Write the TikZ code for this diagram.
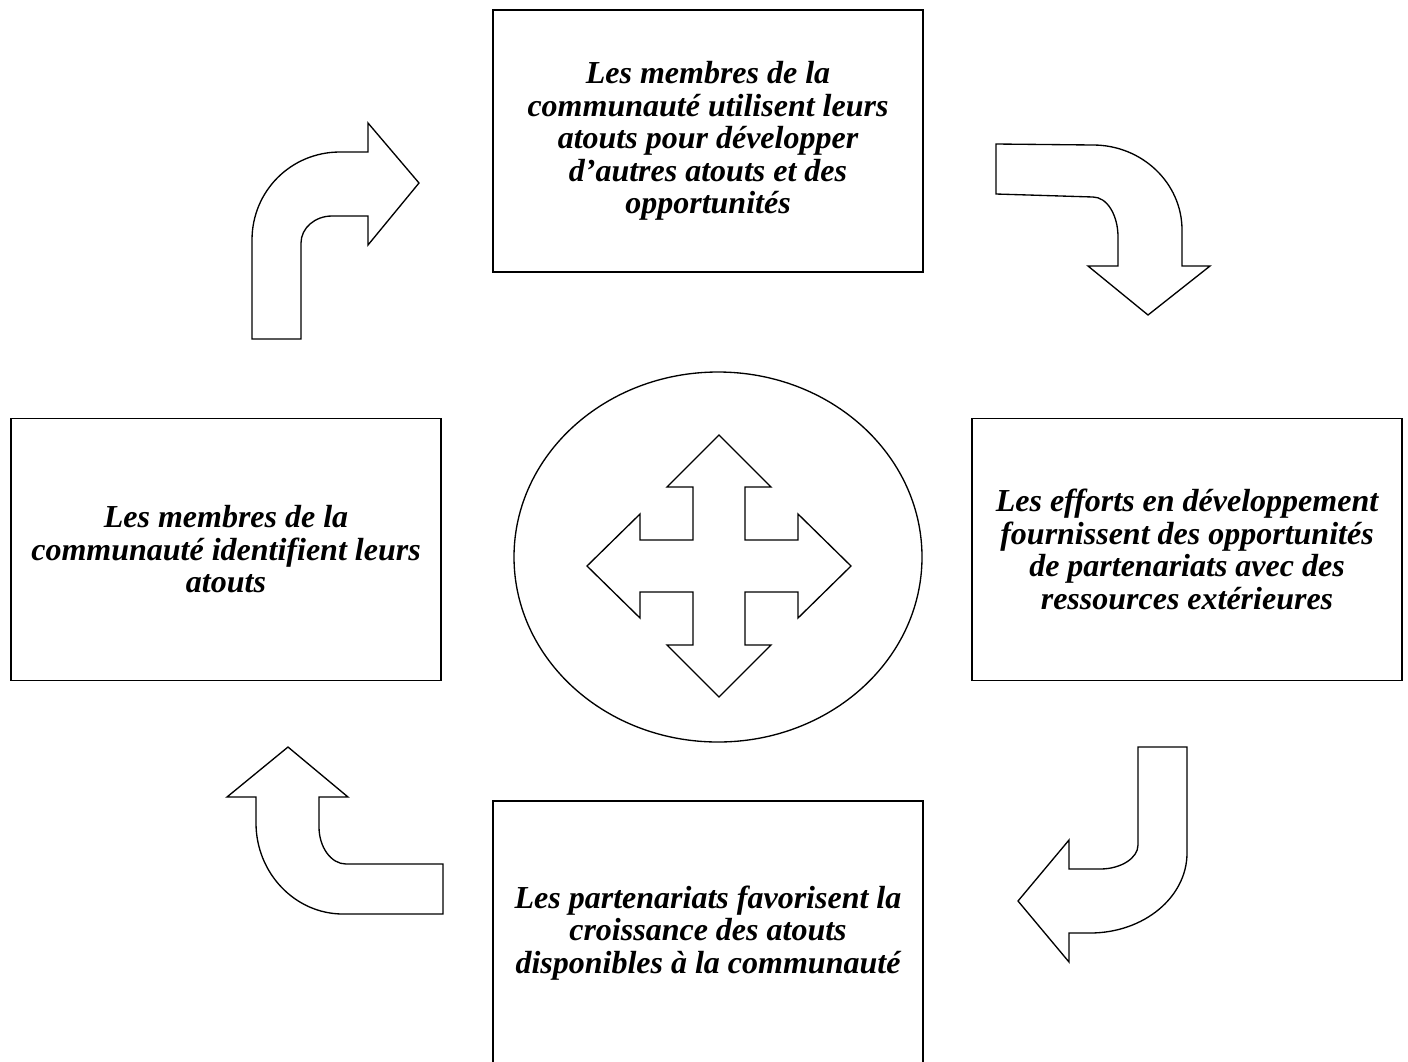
\documentclass[tikz,border=0pt]{standalone}
\usepackage{fontspec}
\setmainfont{Liberation Serif}
\usetikzlibrary{shapes.geometric}

\tikzset{
	stepbox/.style={draw, line width=1.1pt, inner sep=0pt, align=center,
		minimum width=322.5pt, minimum height=196.5pt,
		font=\fontsize{24}{24.4}\selectfont\bfseries\itshape},
	bentarrow/.style={draw, line width=1pt, line join=miter, fill=white}
}

\begin{document}
\begin{tikzpicture}[x=0.75pt, y=-0.75pt]
			%%%%% START %%%%%
			\useasboundingbox (0, 0) rectangle (1408, 1061);
			
			% les quatre cadres
			\node[stepbox] (utilisent) at (708, 141) {Les membres de la\\communauté utilisent leurs\\atouts pour développer\\d’autres atouts et des\\opportunités};
			\node[stepbox] (identifient) at (226, 549.5) {Les membres de la\\communauté identifient leurs\\atouts};
			\node[stepbox] (efforts) at (1187, 549.5) {Les efforts en développement\\fournissent des opportunités\\de partenariats avec des\\ressources extérieures};
			\node[stepbox, minimum height=198pt] (partenariats) at (708, 933) {Les partenariats favorisent la\\croissance des atouts\\disponibles à la communauté};
			
			% le centre
			\node[draw, ellipse, line width=1pt, inner sep=0pt, minimum width=306pt, minimum height=277.5pt] (hub) at (718, 557) {};
			\draw[bentarrow] (719, 435) -- (771, 487) -- (745, 487) -- (745, 540) -- (798, 540) -- (798, 514) -- (851, 566) -- (798, 618) -- (798, 592) -- (745, 592) -- (745, 645) -- (771, 645) -- (719, 697) -- (667, 645) -- (693, 645) -- (693, 592) -- (640, 592) -- (640, 618) -- (587, 566) -- (640, 514) -- (640, 540) -- (693, 540) -- (693, 487) -- (667, 487) -- cycle;
			
			% fleche haut gauche
			\draw[bentarrow] (252, 339) -- (252, 240) .. controls (252, 191) and (291, 152) .. (340, 152) -- (368, 152) -- (368, 123) -- (419, 183) -- (368, 245) -- (368, 216) -- (332, 216) .. controls (315, 216) and (301, 228) .. (301, 243) -- (301, 339) -- cycle;
			
			% fleche haut droite
			\draw[bentarrow] (996, 144) -- (1093, 145) .. controls (1142, 145) and (1182, 183) .. (1182, 230) -- (1182, 266) -- (1210, 266) -- (1148, 315) -- (1088, 266) -- (1118, 266) -- (1118, 237) .. controls (1118, 215) and (1107, 197) .. (1093, 197) -- (996, 194) -- cycle;
			
			% fleche bas droite
			\draw[bentarrow] (1138, 747) -- (1187, 747) -- (1187, 853) .. controls (1187, 897) and (1144, 933) .. (1090, 933) -- (1069, 933) -- (1069, 962) -- (1018, 901) -- (1069, 840) -- (1069, 869) -- (1100, 869) .. controls (1121, 869) and (1138, 858) .. (1138, 845) -- cycle;
			
			% fleche bas gauche
			\draw[bentarrow] (443, 864) -- (443, 914) -- (343, 914) .. controls (295, 914) and (256, 873) .. (256, 823) -- (256, 797) -- (227, 797) -- (288, 747) -- (348, 797) -- (319, 797) -- (319, 827) .. controls (319, 847) and (331, 864) .. (346, 864) -- cycle;
			
			%%%%% END %%%%%
\end{tikzpicture}
\end{document}
